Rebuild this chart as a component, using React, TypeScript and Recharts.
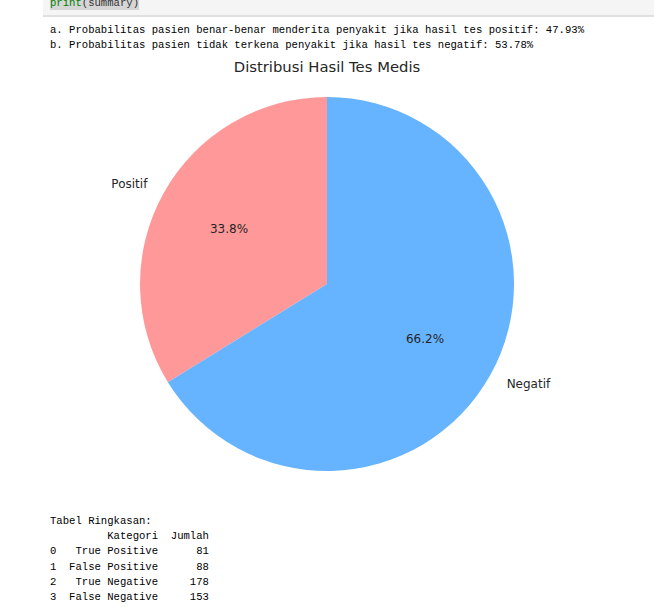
import { PieChart, Pie, Cell } from 'recharts';

const CATEGORIES = ['Positif', 'Negatif'];
const COUNTS = [169, 331];
const COLORS = ['#ff9999', '#66b3ff'];

const SUMMARY_LINES = [
  'a. Probabilitas pasien benar-benar menderita penyakit jika hasil tes positif: 47.93%',
  'b. Probabilitas pasien tidak terkena penyakit jika hasil tes negatif: 53.78%',
];

const TABLE_LINES = [
  'Tabel Ringkasan:',
  '         Kategori  Jumlah',
  '0   True Positive      81',
  '1  False Positive      88',
  '2   True Negative     178',
  '3  False Negative     153',
];

const data = CATEGORIES.map((name, i) => ({ name, value: COUNTS[i] }));

const RADIAN = Math.PI / 180;
const FONT = '"DejaVu Sans", sans-serif';
const MONO = '"Liberation Mono", "DejaVu Sans Mono", monospace';

function renderLabel(props: any) {
  const { cx, cy, midAngle, outerRadius, percent, name } = props;
  const cos = Math.cos(-midAngle * RADIAN);
  const sin = Math.sin(-midAngle * RADIAN);
  const ox = cx + outerRadius * 1.1 * cos;
  const oy = cy + outerRadius * 1.1 * sin;
  const ix = cx + outerRadius * 0.6 * cos;
  const iy = cy + outerRadius * 0.6 * sin;
  return (
    <g>
      <text x={ox} y={oy} textAnchor={ox < cx ? 'end' : 'start'} dominantBaseline="central"
        fontFamily={FONT} fontSize={12} fill="#262626">
        {name}
      </text>
      <text x={ix} y={iy} textAnchor="middle" dominantBaseline="central"
        fontFamily={FONT} fontSize={12} fill="#262626">
        {(percent * 100).toFixed(1)}%
      </text>
    </g>
  );
}

export default function App() {
  return (
    <div style={{ position: 'fixed', left: 0, top: 0, width: 654, height: 608, background: '#fff', overflow: 'hidden' }}>
      {/* code cell stub */}
      <div style={{ position: 'absolute', left: 43, top: 0, width: 611, height: 15, background: '#f5f5f5', borderBottom: '2px solid #e0e0e0' }} />
      <div style={{ position: 'absolute', left: 50, top: -4, height: 14, background: '#d6d6d6', fontFamily: MONO, fontSize: 10.6, lineHeight: '14px', whiteSpace: 'pre' }}>
        <span style={{ color: '#008000' }}>print</span>
        <span style={{ color: '#333' }}>(summary)</span>
      </div>

      {SUMMARY_LINES.map((line, i) => (
        <div key={i} style={{ position: 'absolute', left: 50, top: 23 + i * 15, fontFamily: MONO, fontSize: 10.6, lineHeight: '15px', whiteSpace: 'pre', color: '#000' }}>
          {line}
        </div>
      ))}

      <div style={{ position: 'absolute', left: 0, top: 58, width: 654, textAlign: 'center', fontFamily: FONT, fontSize: 14.8, color: '#262626' }}>
        Distribusi Hasil Tes Medis
      </div>

      <div style={{ position: 'absolute', left: 0, top: 0 }}>
        <PieChart width={654} height={500} margin={{ top: 0, right: 0, bottom: 0, left: 0 }}>
          <Pie
            data={data}
            dataKey="value"
            nameKey="name"
            cx={327}
            cy={284}
            outerRadius={187}
            startAngle={90}
            endAngle={450}
            stroke="none"
            label={renderLabel}
            labelLine={false}
            isAnimationActive={false}
          >
            {data.map((_, i) => (
              <Cell key={i} fill={COLORS[i]} />
            ))}
          </Pie>
        </PieChart>
      </div>

      {TABLE_LINES.map((line, i) => (
        <div key={i} style={{ position: 'absolute', left: 50, top: 514 + i * 15.2, fontFamily: MONO, fontSize: 10.6, lineHeight: '15px', whiteSpace: 'pre', color: '#000' }}>
          {line}
        </div>
      ))}
    </div>
  );
}
